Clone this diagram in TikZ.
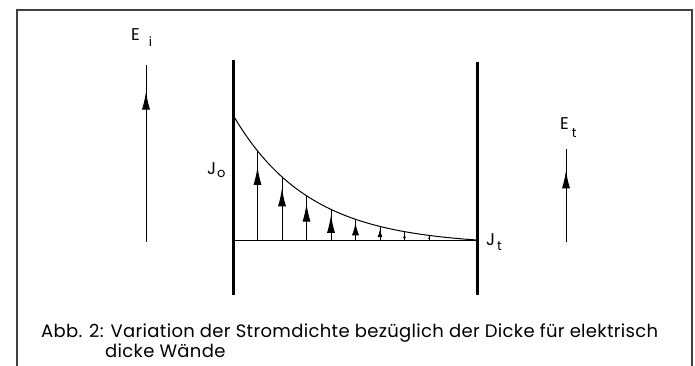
\documentclass[tikz,border=0pt]{standalone}
\usepackage{fontspec}
\setmainfont{Poppins}
\usetikzlibrary{arrows.meta,decorations.markings}
\newcommand\lowidx[2][0.55ex]{\raisebox{-#1}{\fontsize{13}{13}\selectfont #2}}

\begin{document}
\begin{tikzpicture}[
x=1pt,y=-1pt,
wall/.style={line width=3pt},
thinline/.style={line width=1pt},
frameline/.style={line width=1.2pt,black!75},
midtip/.style={postaction={decorate},decoration={markings,
mark=at position #1 with {\arrow{Latex[length=18pt,width=8pt]}}}},
midtip/.default=0.8,
lbl/.style={inner sep=0pt,font=\fontsize{17}{19}\selectfont},
captext/.style={inner sep=0pt,font=\fontsize{18}{20}\selectfont\addfontfeature{LetterSpace=1.8}},
>=Latex
]
\useasboundingbox (0,0) rectangle (695,366);

% frame, open at the bottom
\draw[frameline] (17,366) -- (17,10) -- (692,10) -- (692,366);

% walls
\coordinate (lw-top) at (233,60);
\coordinate (lw-bot) at (233,295);
\coordinate (rw-top) at (477,62);
\coordinate (rw-bot) at (477,295);
\draw[wall] (lw-top) -- (lw-bot);
\draw[wall] (rw-top) -- (rw-bot);

% base line and decay curve
\coordinate (base-l) at (233,240);
\coordinate (base-r) at (477,240);
\draw[thinline] (base-l) -- (base-r);
\draw[thinline] plot[domain=0:244,samples=80]
  ({233+\x},{240-125*(exp(-\x/76)-0.0405)/0.9595});

% current density arrows
\foreach \k in {1,...,8}{
  \pgfmathsetmacro\dx{24.5*\k}
  \pgfmathsetmacro\hh{125*(exp(-\dx/76)-0.0405)/0.9595}
  \pgfmathsetmacro\hl{min(18,0.6*\hh)}
  \pgfmathsetmacro\hw{min(8,0.35*\hh)}
  \coordinate (j\k-bot) at ({233+\dx},240);
  \coordinate (j\k-top) at ({233+\dx},{240-\hh});
  \draw[thinline,postaction={decorate},decoration={markings,
    mark=at position 0.82 with {\arrow{Latex[length=\hl pt,width=\hw pt]}}}]
    (j\k-bot) -- (j\k-top);
}

% incident and transmitted field
\coordinate (ei-bot) at (146,242);
\coordinate (ei-top) at (146,65);
\draw[thinline,midtip=0.85] (ei-bot) -- (ei-top);
\coordinate (et-bot) at (566,242);
\coordinate (et-top) at (566,149);
\draw[thinline,midtip=0.77] (et-bot) -- (et-top);

% labels
\node[lbl,anchor=base west] (ei) at (131,41) {E\hspace{9pt}\lowidx[6pt]{i}};
\node[lbl,anchor=base west] (et) at (560,130) {E\hspace{3pt}\lowidx[8pt]{t}};
\node[lbl,anchor=base west] (jo) at (207,175) {J\hspace{1pt}\lowidx[3pt]{o}};
\node[lbl,anchor=base west] (jt) at (486,245) {J\hspace{2pt}\lowidx[5pt]{t}};

% caption
\node[captext,anchor=base west] (cap1) at (41,337)
  {Abb. 2: Variation der Stromdichte bezüglich der Dicke für elektrisch};
\node[captext,anchor=base west] (cap2) at (105,357) {dicke Wände};
\end{tikzpicture}
\end{document}
